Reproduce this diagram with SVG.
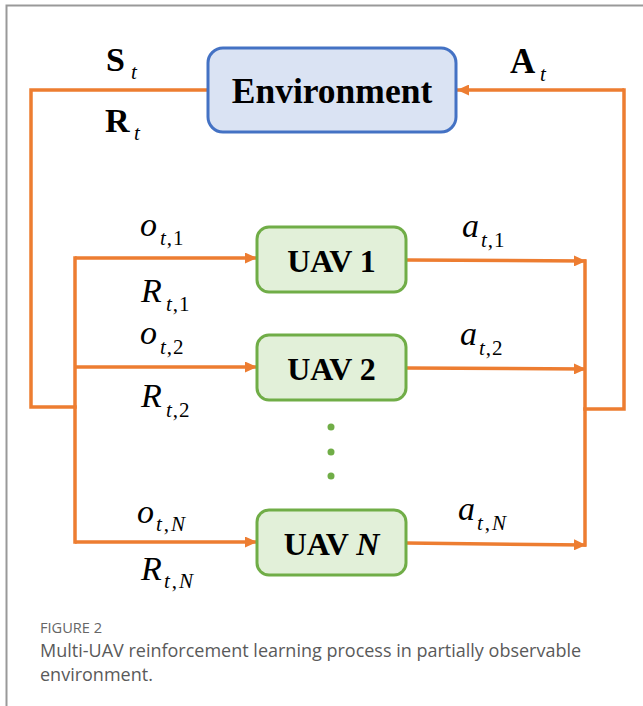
<svg xmlns="http://www.w3.org/2000/svg" width="643" height="706" viewBox="0 0 643 706">
  <style>
    .wire { fill: none; stroke: #ed7d31; stroke-width: 3.5; stroke-linecap: square; }
    .arr { fill: none; stroke: #ed7d31; stroke-width: 3.5; marker-end: url(#ah); }
    .env { fill: #dae3f3; stroke: #4472c4; stroke-width: 3; }
    .uav { fill: #e2f0d9; stroke: #70ad47; stroke-width: 3; }
    .bold { font-family: "Liberation Serif", "Times New Roman", serif; font-weight: bold; fill: #000; }
    .math { font-family: "Liberation Serif", "Times New Roman", serif; font-style: italic; font-size: 34px; fill: #000; }
    .sub { font-family: "Liberation Serif", "Times New Roman", serif; font-size: 21px; fill: #000; letter-spacing: 1px; }
    .it { font-style: italic; }
    .cap1 { font-family: "Open Sans", "Liberation Sans", sans-serif; font-size: 14.6px; fill: #666; }
    .cap2 { font-family: "Open Sans", "Liberation Sans", sans-serif; font-size: 18px; fill: #5a5a5a; }
  </style>
  <defs>
    <marker id="ah" markerUnits="userSpaceOnUse" markerWidth="12" markerHeight="11" refX="12" refY="5.5" orient="auto">
      <path d="M0,0 L12,5.5 L0,11 z" fill="#ed7d31"/>
    </marker>
  </defs>

  <rect width="643" height="706" fill="#fff"/>
  <path d="M6.5,706 V5.5 H643" fill="none" stroke="#999" stroke-width="2"/>

  <g id="connectors">
    <path class="wire" d="M208,90 H31 V407 H75"/>
    <path class="wire" d="M75,258 V542"/>
    <path class="arr" d="M75,258 H257"/>
    <path class="arr" d="M75,367 H257"/>
    <path class="arr" d="M75,542 H257"/>
    <path class="arr" d="M406,260 L586,261"/>
    <path class="arr" d="M406,368 L586,369"/>
    <path class="arr" d="M406,543 L586,545"/>
    <path class="wire" d="M585,261 V545"/>
    <path class="wire" d="M585,409 H624 V90"/>
    <path class="arr" d="M624,90 H457"/>
  </g>

  <g id="labels">
    <text class="bold" x="106" y="71" font-size="34">S</text>
    <text class="sub it" x="131" y="79" font-size="20">t</text>
    <text class="bold" x="105" y="132" font-size="34">R</text>
    <text class="sub it" x="134" y="140" font-size="20">t</text>
    <text class="bold" x="510" y="73" font-size="35">A</text>
    <text class="sub it" x="540" y="81" font-size="20">t</text>

    <text class="math" x="140" y="236">o</text>
    <text class="sub" x="160" y="245"><tspan class="it">t</tspan>,1</text>
    <text class="math" x="141" y="302">R</text>
    <text class="sub" x="166" y="311"><tspan class="it">t</tspan>,1</text>

    <text class="math" x="140" y="344">o</text>
    <text class="sub" x="160" y="354"><tspan class="it">t</tspan>,2</text>
    <text class="math" x="141" y="407">R</text>
    <text class="sub" x="166" y="417"><tspan class="it">t</tspan>,2</text>

    <text class="math" x="137" y="523">o</text>
    <text class="sub" x="156" y="531" style="letter-spacing:2px"><tspan class="it">t</tspan>,<tspan class="it">N</tspan></text>
    <text class="math" x="141" y="580">R</text>
    <text class="sub" x="164" y="588" style="letter-spacing:2px"><tspan class="it">t</tspan>,<tspan class="it">N</tspan></text>

    <text class="math" x="462" y="237">a</text>
    <text class="sub" x="481" y="247"><tspan class="it">t</tspan>,1</text>
    <text class="math" x="460" y="345">a</text>
    <text class="sub" x="479" y="355"><tspan class="it">t</tspan>,2</text>
    <text class="math" x="458" y="520">a</text>
    <text class="sub" x="477" y="530" style="letter-spacing:2px"><tspan class="it">t</tspan>,<tspan class="it">N</tspan></text>
  </g>

  <g id="environment">
    <rect class="env" x="208" y="48" width="248" height="84" rx="15"/>
    <text class="bold" x="332" y="103" font-size="35.5" text-anchor="middle">Environment</text>
  </g>

  <g id="uav1">
    <rect class="uav" x="257" y="227" width="149" height="65" rx="12"/>
    <text class="bold" x="331.5" y="272" font-size="32" text-anchor="middle">UAV 1</text>
  </g>
  <g id="uav2">
    <rect class="uav" x="257" y="335" width="149" height="65" rx="12"/>
    <text class="bold" x="331.5" y="380" font-size="32" text-anchor="middle">UAV 2</text>
  </g>
  <g id="ellipsis">
    <circle cx="331" cy="427" r="3.5" fill="#70ad47"/>
    <circle cx="331" cy="452" r="3.5" fill="#70ad47"/>
    <circle cx="331" cy="476" r="3.5" fill="#70ad47"/>
  </g>
  <g id="uavN">
    <rect class="uav" x="257" y="510" width="149" height="65" rx="12"/>
    <text class="bold" x="331.5" y="555" font-size="32" text-anchor="middle">UAV <tspan class="it">N</tspan></text>
  </g>

  <g id="caption">
    <text class="cap1" x="40" y="633">FIGURE 2</text>
    <text class="cap2" x="40" y="657">Multi-UAV reinforcement learning process in partially observable</text>
    <text class="cap2" x="40" y="681">environment.</text>
  </g>
</svg>
